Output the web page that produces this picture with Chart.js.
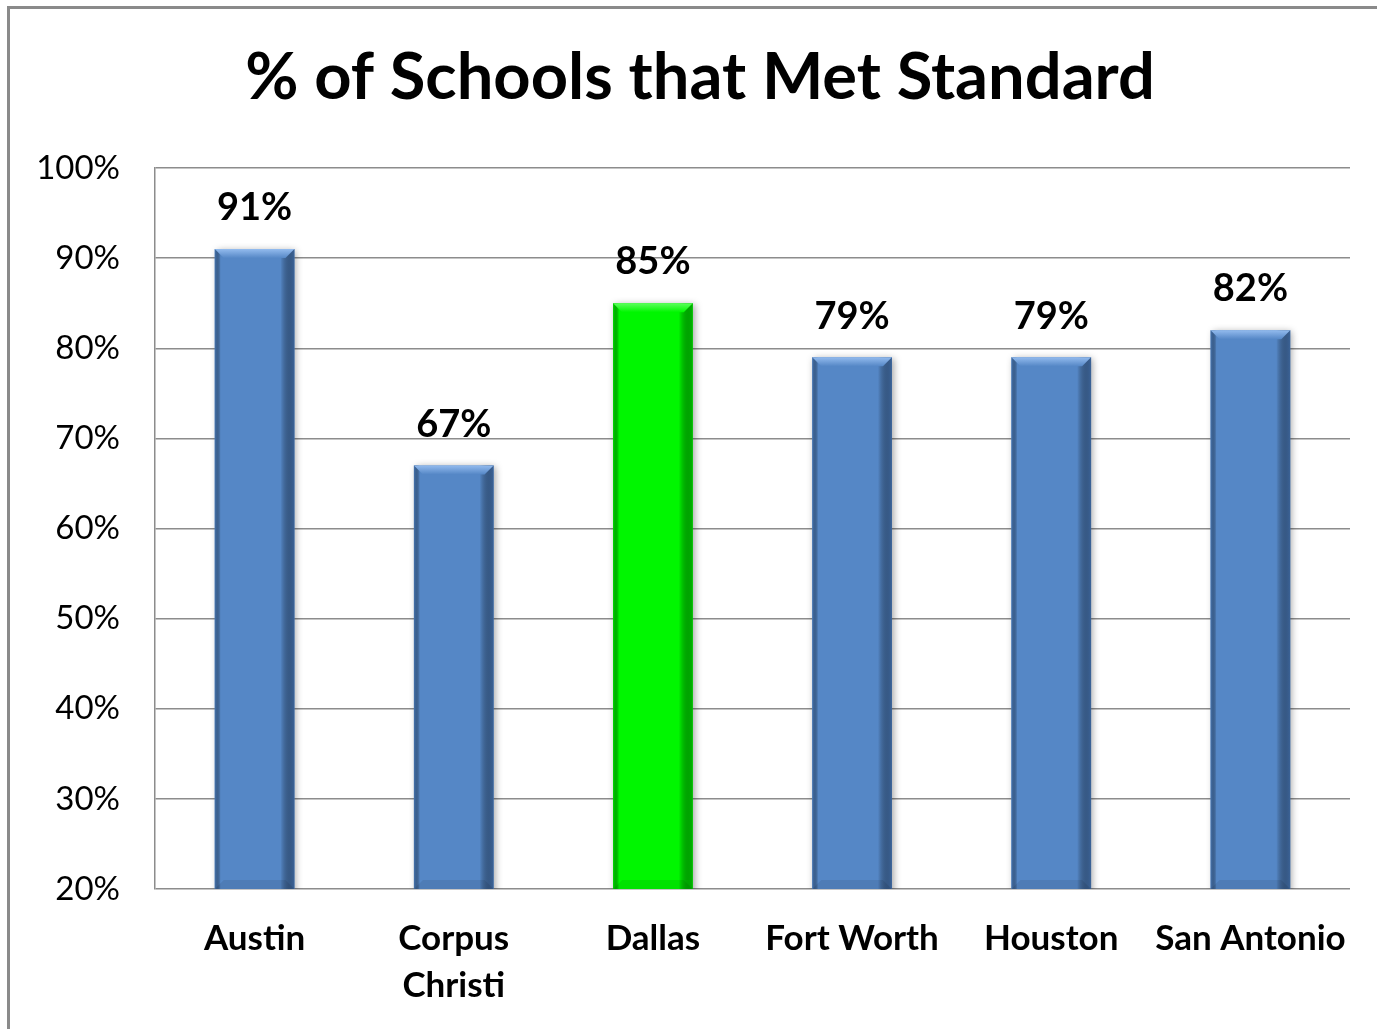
<!DOCTYPE html>
<html>
<head>
<meta charset="utf-8">
<script src="https://cdn.jsdelivr.net/npm/chart.js@4.4.0/dist/chart.umd.min.js"></script>
<style>
  html, body { margin: 0; padding: 0; background: #fff; }
  #wrap { width: 1377px; height: 1029px; position: relative; }
</style>
</head>
<body>
<div id="wrap"><canvas id="barChart"></canvas></div>
<script>
var chartTitle = '% of Schools that Met Standard';
var cities = ['Austin', ['Corpus', 'Christi'], 'Dallas', 'Fort Worth', 'Houston', 'San Antonio'];
var metStandard = [91, 67, 85, 79, 79, 82];
var highlight = [false, false, true, false, false, false];
var yTicks = [20, 30, 40, 50, 60, 70, 80, 90, 100];

var FONT = 'Lato, "DejaVu Sans", sans-serif';

// bar colours
var blue = { face: '#5587c6', light: '#93bbee', dark: '#3c6499', edge: '#4776b2' };
var green = { face: '#00f600', light: '#5dff5d', dark: '#00b800', edge: '#00d800' };

// frame, white background, title
var framePlugin = {
	id: 'frame',
	beforeDraw: function(chart) {
		var ctx = chart.ctx;
		ctx.save();
		ctx.fillStyle = '#fff';
		ctx.fillRect(0, 0, chart.width, chart.height);
		ctx.strokeStyle = '#8a8a8a';
		ctx.lineWidth = 3;
		ctx.beginPath();
		ctx.moveTo(8.5, chart.height);
		ctx.lineTo(8.5, 7.5);
		ctx.lineTo(chart.width, 7.5);
		ctx.stroke();

		ctx.fillStyle = '#000';
		ctx.font = 'bold 65px ' + FONT;
		ctx.textAlign = 'center';
		ctx.textBaseline = 'middle';
		ctx.fillText(chartTitle, 700, 78);
		ctx.restore();
	}
};

// soft shadow under bars
var shadowPlugin = {
	id: 'barShadow',
	beforeDatasetsDraw: function(chart) {
		var ctx = chart.ctx;
		ctx.save();
		ctx.shadowColor = 'rgba(0,0,0,0.35)';
		ctx.shadowBlur = 7;
		ctx.shadowOffsetX = 2;
		ctx.shadowOffsetY = 1;
	},
	afterDatasetsDraw: function(chart) {
		chart.ctx.restore();
	}
};

// bevel look + value labels
var bevelPlugin = {
	id: 'bevel',
	afterDatasetsDraw: function(chart) {
		var ctx = chart.ctx;
		var meta = chart.getDatasetMeta(0);
		meta.data.forEach(function(bar, i) {
			var p = bar.getProps(['x', 'y', 'base', 'width'], true);
			var L = p.x - p.width / 2, R = p.x + p.width / 2, T = p.y;
			var B = Math.min(p.base, chart.chartArea.bottom);
			var c = highlight[i] ? green : blue;
			var b = 9;
			ctx.save();
			// right side darker
			var g = ctx.createLinearGradient(R - 14, 0, R, 0);
			g.addColorStop(0, 'rgba(0,0,0,0)');
			g.addColorStop(1, c.dark);
			ctx.fillStyle = g;
			ctx.fillRect(R - 14, T, 14, B - T);
			// left edge
			var gl = ctx.createLinearGradient(L, 0, L + 6, 0);
			gl.addColorStop(0, c.edge);
			gl.addColorStop(1, 'rgba(0,0,0,0)');
			ctx.fillStyle = gl;
			ctx.fillRect(L, T, 6, B - T);
			// top bevel
			var gt = ctx.createLinearGradient(0, T, 0, T + b);
			gt.addColorStop(0, c.light);
			gt.addColorStop(1, c.face);
			ctx.fillStyle = gt;
			ctx.beginPath();
			ctx.moveTo(L, T);
			ctx.lineTo(R, T);
			ctx.lineTo(R - b, T + b);
			ctx.lineTo(L + b, T + b);
			ctx.closePath();
			ctx.fill();
			// bottom bevel
			ctx.fillStyle = 'rgba(0,0,0,0.08)';
			ctx.beginPath();
			ctx.moveTo(L, B);
			ctx.lineTo(R, B);
			ctx.lineTo(R - b, B - b);
			ctx.lineTo(L + b, B - b);
			ctx.closePath();
			ctx.fill();
			ctx.restore();

			// value label
			ctx.save();
			ctx.fillStyle = '#000';
			ctx.font = 'bold 38px ' + FONT;
			ctx.textAlign = 'center';
			ctx.textBaseline = 'middle';
			ctx.fillText(metStandard[i] + '%', p.x, T - 41);
			ctx.restore();
		});
	}
};

var ctx = document.getElementById('barChart');
var chart = new Chart(ctx, {
	type: 'bar',
	data: {
		labels: cities,
		datasets: [{
			data: metStandard,
			backgroundColor: metStandard.map(function(v, i) { return highlight[i] ? green.face : blue.face; }),
			borderWidth: 0,
			categoryPercentage: 1,
			barPercentage: 0.4
		}]
	},
	options: {
		responsive: true,
		maintainAspectRatio: false,
		animation: false,
		layout: { padding: { left: 0, right: 27, top: 168, bottom: 0 } },
		plugins: {
			legend: { display: false },
			tooltip: { enabled: false },
			title: { display: false }
		},
		scales: {
			x: {
				grid: { display: false },
				border: { display: false },
				ticks: {
					color: '#000',
					font: { family: FONT, size: 35, weight: 'bold', lineHeight: 1.35 },
					padding: 18,
					maxRotation: 0,
					autoSkip: false
				},
				afterFit: function(scale) { scale.height = 140; }
			},
			y: {
				min: 20,
				max: 100,
				afterBuildTicks: function(scale) {
					scale.ticks = yTicks.map(function(v) { return { value: v }; });
				},
				grid: { color: '#8c8c8c', lineWidth: 1.5, drawTicks: false },
				border: { display: true, color: '#8c8c8c', width: 1.5 },
				ticks: {
					color: '#000',
					font: { family: FONT, size: 33 },
					padding: 35,
					callback: function(v) { return v + '%'; }
				},
				afterFit: function(scale) { scale.width = 155; }
			}
		}
	},
	plugins: [framePlugin, shadowPlugin, bevelPlugin]
});
</script>
</body>
</html>
